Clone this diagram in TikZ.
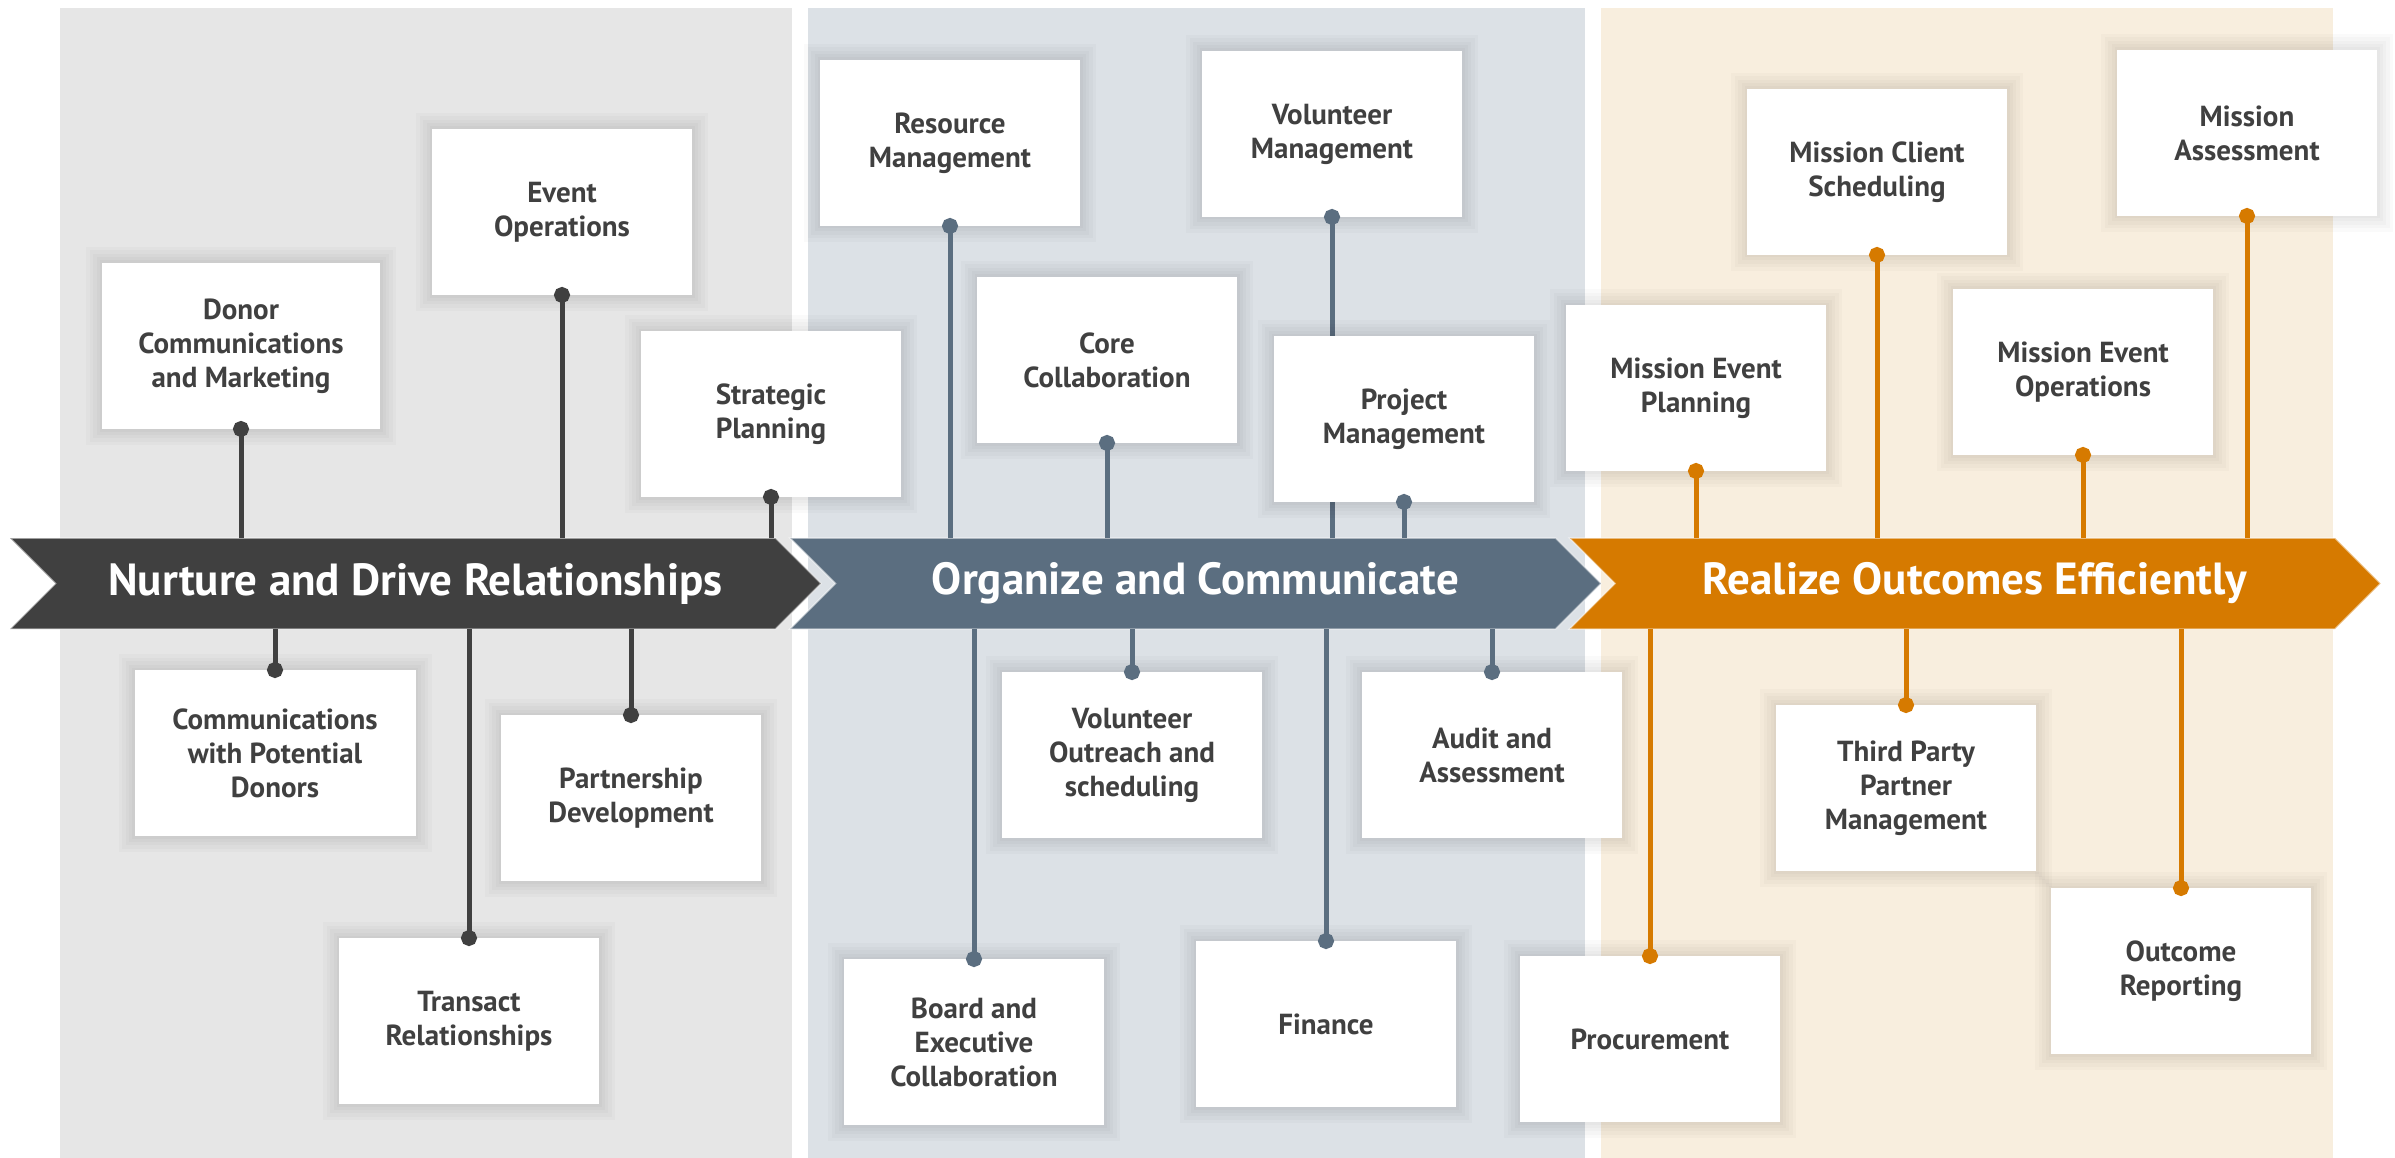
\documentclass[tikz,border=0pt]{standalone}
\usepackage{fontspec}
\setmainfont{PT Sans}
\usetikzlibrary{shapes.symbols,arrows.meta}

\definecolor{panelA}{HTML}{E6E6E6}
\definecolor{panelB}{HTML}{DCE1E6}
\definecolor{panelC}{HTML}{F8EEDE}
\definecolor{darkband}{HTML}{404040}
\definecolor{blueband}{HTML}{5B6E80}
\definecolor{orangeband}{HTML}{D67A00}
\definecolor{cardtext}{HTML}{404040}

\tikzset{
  halo/.style={preaction={draw=black, draw opacity=#1, line width=32pt},
    preaction={draw=black, draw opacity=#1, line width=25pt},
    preaction={draw=black, draw opacity=#1, line width=18pt},
    preaction={draw=black, draw opacity=#1, line width=11pt},
    preaction={draw=black, draw opacity=#1, line width=5pt}},
  card/.style={fill=white, text=cardtext, align=center, inner sep=0pt, outer sep=0pt,
    minimum width=260pt, minimum height=166pt, halo=0.018,
    font=\fontsize{29}{34}\selectfont\bfseries},
  banner/.style={signal, signal from=west, signal to=east, signal pointer angle=90,
    minimum width=811pt, minimum height=91pt, inner sep=0pt, outer sep=0pt,
    draw=white, draw opacity=0.5, line width=1.5pt,
    text=white, font=\fontsize{45}{50}\selectfont\bfseries},
  stem/.style={line width=5pt, -{Circle[length=16pt]}, shorten >=-8pt},
}

\begin{document}
\begin{tikzpicture}[x=1pt, y=-1pt]
\useasboundingbox (0,0) rectangle (2395,1158);

% columns
\fill[panelA] (60,8) rectangle (792,1158);
\fill[panelB] (808,8) rectangle (1585,1158);
\fill[panelC] (1601,8) rectangle (2333,1158);

% banners
\node[banner, fill=darkband] (nurture) at (415.5,583.5) {Nurture and Drive Relationships};
\node[banner, fill=blueband] (organize) at (1195.5,583.5) {Organize and Communicate};
\node[banner, fill=orangeband] (realize) at (1975,583.5) {Realize Outcomes Efficiently};

% first column
\node[card, minimum width=278pt] (donor) at (241,346) {Donor\\Communications\\and Marketing};
\node[card] (events) at (562,212) {Event\\Operations};
\node[card] (strategy) at (771,414) {Strategic\\Planning};
\node[card, minimum width=281pt] (prospects) at (275,753) {Communications\\with Potential\\Donors};
\node[card] (partners) at (631,798) {Partnership\\Development};
\node[card] (transact) at (469,1021) {Transact\\Relationships};

\draw[stem, darkband] (donor.south |- nurture.north) -- (donor.south);
\draw[stem, darkband] (events.south |- nurture.north) -- (events.south);
\draw[stem, darkband] (strategy.south |- nurture.north) -- (strategy.south);
\draw[stem, darkband] (prospects.north |- nurture.south) -- (prospects.north);
\draw[stem, darkband] (partners.north |- nurture.south) -- (partners.north);
\draw[stem, darkband] (transact.north |- nurture.south) -- (transact.north);

% second column
\node[card] (resource) at (950,143) {Resource\\Management};
\node[card] (volunteers) at (1332,134) {Volunteer\\Management};
\node[card] (core) at (1107,360) {Core\\Collaboration};
\draw[stem, blueband] (volunteers.south |- organize.north) -- (volunteers.south);
\node[card] (project) at (1404,419) {Project\\Management};
\node[card] (outreach) at (1132,755) {Volunteer\\Outreach and\\scheduling};
\node[card] (audit) at (1492,755) {Audit and\\Assessment};
\node[card] (board) at (974,1042) {Board and\\Executive\\Collaboration};
\node[card] (finance) at (1326,1024) {Finance};

\draw[stem, blueband] (resource.south |- organize.north) -- (resource.south);
\draw[stem, blueband] (core.south |- organize.north) -- (core.south);
\draw[stem, blueband] (project.south |- organize.north) -- (project.south);
\draw[stem, blueband] (outreach.north |- organize.south) -- (outreach.north);
\draw[stem, blueband] (audit.north |- organize.south) -- (audit.north);
\draw[stem, blueband] (board.north |- organize.south) -- (board.north);
\draw[stem, blueband] (finance.north |- organize.south) -- (finance.north);

% third column
\node[card] (eventplan) at (1696,388) {Mission Event\\Planning};
\node[card] (clients) at (1877,172) {Mission Client\\Scheduling};
\node[card] (eventops) at (2083,372) {Mission Event\\Operations};
\node[card] (assess) at (2247,133) {Mission\\Assessment};
\node[card] (procure) at (1650,1039) {Procurement};
\node[card] (thirdparty) at (1906,788) {Third Party\\Partner\\Management};
\node[card] (outcome) at (2181,971) {Outcome\\Reporting};

\draw[stem, orangeband] (eventplan.south |- realize.north) -- (eventplan.south);
\draw[stem, orangeband] (clients.south |- realize.north) -- (clients.south);
\draw[stem, orangeband] (eventops.south |- realize.north) -- (eventops.south);
\draw[stem, orangeband] (assess.south |- realize.north) -- (assess.south);
\draw[stem, orangeband] (procure.north |- realize.south) -- (procure.north);
\draw[stem, orangeband] (thirdparty.north |- realize.south) -- (thirdparty.north);
\draw[stem, orangeband] (outcome.north |- realize.south) -- (outcome.north);

\end{tikzpicture}
\end{document}
